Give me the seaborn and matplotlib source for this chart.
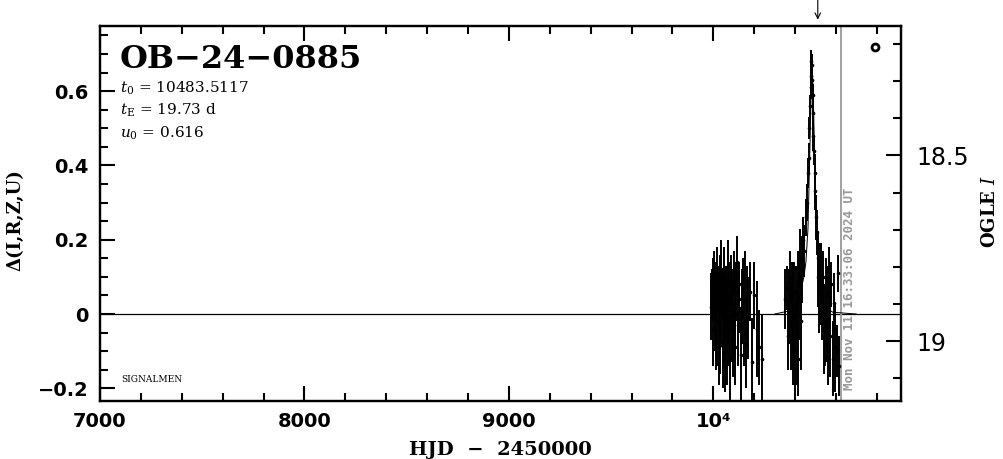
import numpy as np
import pandas as pd
import matplotlib
matplotlib.use('Agg')
import matplotlib.pyplot as plt
from matplotlib.ticker import MultipleLocator, FixedLocator
import seaborn as sns

# 2023 season
t23 = [9991, 9994, 9996, 9999, 10002, 10004, 10007, 10009, 10012, 10015,
       10017, 10020, 10023, 10026, 10028, 10031, 10034, 10036, 10039, 10042,
       10045, 10047, 10050, 10053, 10056, 10058, 10061, 10064, 10067, 10070,
       10073, 10076, 10079, 10082, 10085, 10088, 10091, 10094, 10097, 10100,
       10104, 10108, 10112, 10116, 10120, 10124, 10128, 10133, 10138, 10143,
       10148, 10153, 10158, 10165, 10172, 10180, 10190, 10200, 10212, 10225, 10236]
d23 = [0.02, 0.05, 0.09, -0.04, 0.06, 0.10, 0.01, 0.08, -0.06, 0.04,
       0.11, -0.02, 0.07, -0.09, 0.03, 0.09, -0.05, 0.12, 0.00, 0.06,
       -0.08, 0.05, -0.03, 0.10, 0.02, -0.10, 0.07, 0.04, -0.06, 0.13,
       0.01, -0.04, 0.08, -0.12, 0.05, 0.09, -0.02, 0.03, -0.07, 0.11,
       0.00, -0.09, 0.06, 0.14, -0.03, 0.04, 0.08, -0.11, 0.02, 0.07,
       -0.05, 0.10, -0.08, 0.03, -0.01, 0.06, -0.13, 0.05, -0.04, -0.09, -0.12]
e23 = [0.09, 0.07, 0.06, 0.10, 0.08, 0.07, 0.11, 0.06, 0.09, 0.08,
       0.07, 0.12, 0.06, 0.10, 0.08, 0.07, 0.11, 0.08, 0.09, 0.06,
       0.12, 0.07, 0.10, 0.08, 0.09, 0.11, 0.06, 0.08, 0.13, 0.07,
       0.09, 0.10, 0.06, 0.12, 0.08, 0.07, 0.11, 0.09, 0.10, 0.06,
       0.12, 0.10, 0.08, 0.07, 0.11, 0.09, 0.06, 0.13, 0.10, 0.08,
       0.09, 0.07, 0.12, 0.10, 0.11, 0.08, 0.12, 0.09, 0.13, 0.10, 0.12]

# 2024 season (baseline, event, tail)
t24 = [10352, 10358, 10363, 10368, 10373, 10378, 10383, 10388, 10392, 10396,
       10400, 10404, 10408, 10412, 10416, 10420, 10425, 10430, 10435, 10440, 10445,
       10452, 10458, 10463, 10467, 10470, 10473, 10476, 10478, 10480, 10482,
       10484, 10486, 10488, 10490, 10493, 10496, 10499, 10502, 10506, 10510,
       10514, 10518, 10522, 10526, 10530, 10535, 10540, 10545, 10550, 10555,
       10560, 10566, 10572, 10578, 10584, 10590, 10597, 10603, 10610, 10616]
d24 = [0.04, 0.07, -0.06, 0.02, 0.10, -0.03, 0.05, -0.08, 0.01, 0.06,
       -0.10, 0.03, -0.05, 0.08, -0.12, 0.04, 0.15, -0.02, 0.12, 0.20, 0.17,
       0.26, 0.30, 0.38, 0.42, 0.50, 0.56, 0.61, 0.64, 0.68, 0.67,
       0.63, 0.59, 0.54, 0.48, 0.44, 0.38, 0.33, 0.26, 0.22, 0.15,
       0.10, 0.05, 0.12, 0.08, 0.02, 0.10, -0.04, -0.08, 0.05, 0.00,
       -0.10, 0.06, -0.06, 0.08, -0.12, 0.03, -0.09, -0.10, 0.11, -0.14]
e24 = [0.08, 0.06, 0.09, 0.10, 0.07, 0.12, 0.09, 0.11, 0.13, 0.08,
       0.12, 0.10, 0.14, 0.09, 0.10, 0.11, 0.08, 0.13, 0.09, 0.06, 0.07,
       0.05, 0.05, 0.04, 0.04, 0.03, 0.03, 0.03, 0.03, 0.03, 0.03,
       0.03, 0.03, 0.03, 0.04, 0.04, 0.05, 0.05, 0.06, 0.06, 0.07,
       0.08, 0.10, 0.07, 0.11, 0.09, 0.07, 0.12, 0.06, 0.10, 0.13,
       0.09, 0.12, 0.11, 0.06, 0.10, 0.08, 0.12, 0.07, 0.05, 0.08]

# model curve
model_t = [10300, 10383, 10423, 10443, 10453, 10463, 10473, 10478, 10483.5,
           10489, 10494, 10504, 10514, 10524, 10544, 10584, 10700]
model_d = [0.0, 0.01, 0.05, 0.10, 0.14, 0.23, 0.46, 0.59, 0.67,
           0.59, 0.46, 0.23, 0.11, 0.05, 0.02, 0.005, 0.0]

event = "OB\u221224\u22120885"
t0_txt = "10483.5117"
tE_txt = "19.73 d"
u0_txt = "0.616"
now_hjd = 10626
now_txt = "Mon Nov 11 16:33:06 2024 UT"
arrow_hjd = 10511
base_mag = 18.927

df = pd.DataFrame({'hjd': t23 + t24, 'delta': d23 + d24, 'err': e23 + e24})
model = pd.DataFrame({'hjd': model_t, 'delta': model_d})

sns.set_style("ticks")
plt.rcParams['font.family'] = ['DejaVu Sans']
plt.rcParams['mathtext.fontset'] = 'dejavuserif'
for key in ['text.color', 'axes.labelcolor', 'xtick.color', 'ytick.color',
            'axes.edgecolor']:
    plt.rcParams[key] = 'black'

fig = plt.figure(figsize=(10.04, 4.59), dpi=100)
ax = fig.add_axes([100 / 1004, 1 - 401 / 459, 801 / 1004, 375.3 / 459])

ax.axhline(0, color='black', lw=0.9, zorder=1)
ax.errorbar(df['hjd'], df['delta'], yerr=df['err'], fmt='none',
            ecolor='black', elinewidth=1.4, capsize=0, zorder=2)
sns.scatterplot(data=df, x='hjd', y='delta', color='black', s=7,
                linewidth=0, ax=ax, zorder=3)
sns.lineplot(data=model, x='hjd', y='delta', color='black', lw=0.7,
             ax=ax, zorder=4)
ax.axvline(now_hjd, color='#999999', lw=1.3, zorder=1)
ax.plot([10793], [0.72], marker='o', ms=5, mfc='white', mec='black', mew=2)

ax.set_xlim(7000, 10918)
ax.set_ylim(-0.234, 0.776)
ax.set_xlabel('')
ax.set_ylabel('')

ax.xaxis.set_major_locator(FixedLocator([7000, 8000, 9000, 10000]))
ax.set_xticklabels(['7000', '8000', '9000', '10\u2074'])
ax.xaxis.set_minor_locator(MultipleLocator(200))
ax.yaxis.set_major_locator(FixedLocator([-0.2, 0, 0.2, 0.4, 0.6]))
ax.set_yticklabels(['\u22120.2', '0', '0.2', '0.4', '0.6'])
ax.yaxis.set_minor_locator(MultipleLocator(0.05))
ax.tick_params(axis='both', which='major', direction='in', length=11, width=1.5,
               labelsize=14, top=True, right=False, pad=8, colors='black')
ax.tick_params(axis='both', which='minor', direction='in', length=5.5, width=1.5,
               top=True, right=False, colors='black')
for lab in ax.get_xticklabels() + ax.get_yticklabels():
    lab.set_fontweight('bold')
for sp in ax.spines.values():
    sp.set_linewidth(1.6)
    sp.set_color('black')
    sp.set_visible(True)

ax2 = ax.twinx()
ax2.set_ylim(base_mag + 0.234, base_mag - 0.776)
ax2.yaxis.set_major_locator(FixedLocator([18.5, 19]))
ax2.set_yticklabels(['18.5', '19'])
ax2.yaxis.set_minor_locator(MultipleLocator(0.1))
ax2.tick_params(axis='y', which='major', direction='in', length=11, width=1.5,
                labelsize=17, pad=11, colors='black')
ax2.tick_params(axis='y', which='minor', direction='in', length=5.5, width=1.5,
                colors='black')
for sp in ax2.spines.values():
    sp.set_linewidth(1.6)
    sp.set_color('black')

ax.text(0.025, 0.887, event, transform=ax.transAxes, fontsize=23,
        fontweight='bold', family='DejaVu Serif', va='baseline')
ax.text(0.025, 0.821, r'$t_0$ = ' + t0_txt, transform=ax.transAxes,
        fontsize=11, family='DejaVu Serif', va='baseline')
ax.text(0.025, 0.762, r'$t_{\rm E}$ = ' + tE_txt, transform=ax.transAxes,
        fontsize=11, family='DejaVu Serif', va='baseline')
ax.text(0.025, 0.703, r'$u_0$ = ' + u0_txt, transform=ax.transAxes,
        fontsize=11, family='DejaVu Serif', va='baseline')
ax.text(0.027, 0.056, 'SIGNALMEN', transform=ax.transAxes, fontsize=6.5,
        family='DejaVu Serif', va='center')

fig.text(850 / 1004, 1 - 390 / 459, now_txt, rotation=90, color='#999999',
         fontsize=9, family='DejaVu Sans Mono', fontweight='bold',
         ha='center', va='bottom')

ax.annotate('', xy=(arrow_hjd, 1.016), xytext=(arrow_hjd, 1.07),
            xycoords=('data', 'axes fraction'), textcoords=('data', 'axes fraction'),
            arrowprops=dict(arrowstyle='->', lw=0.8, color='black',
                            shrinkA=0, shrinkB=0), annotation_clip=False)

fig.text(15 / 1004, 1 - 220 / 459, '\u0394(I,R,Z,U)', rotation=90, fontsize=13,
         fontweight='bold', family='DejaVu Serif', ha='center', va='center')
fig.text(990 / 1004, 1 - 211 / 459, 'OGLE $I$', rotation=90, fontsize=13,
         fontweight='bold', family='DejaVu Serif', ha='center', va='center')
fig.text(500 / 1004, 1 - 450 / 459, 'HJD  \u2212  2450000', fontsize=14,
         fontweight='bold', family='DejaVu Serif', ha='center', va='center')

fig.savefig('out.png', dpi=100)
